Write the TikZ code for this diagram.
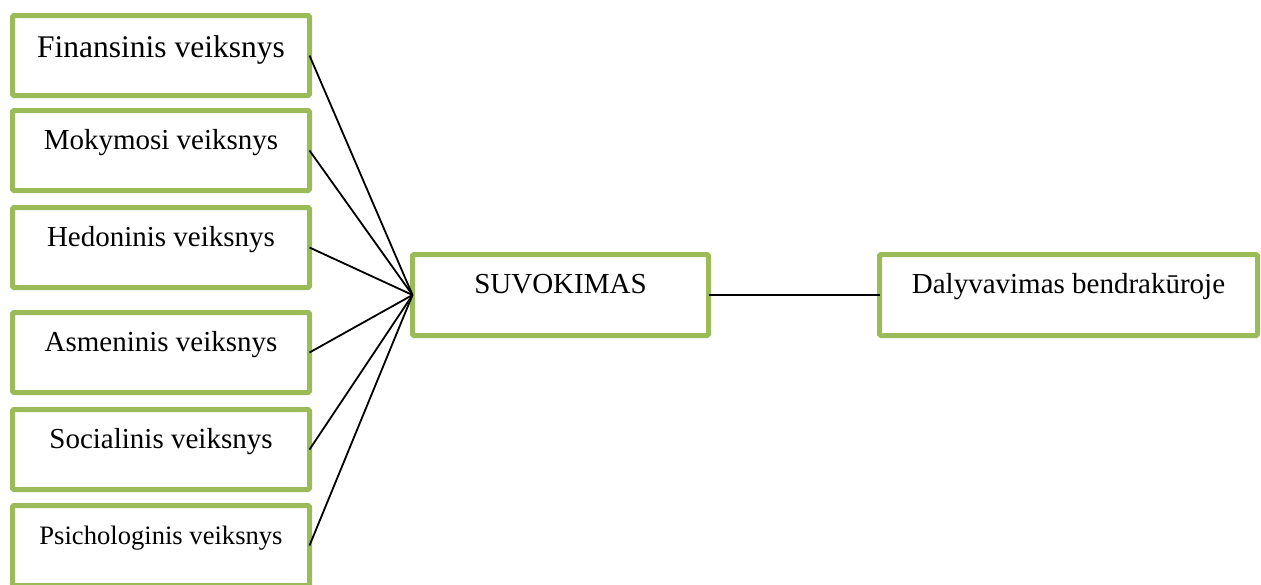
\documentclass[tikz,border=0pt]{standalone}
\usepackage{fontspec}
\setmainfont{Liberation Serif}
\definecolor{boxgreen}{HTML}{9BBB59}
\begin{document}
\begin{tikzpicture}[x=1pt,y=-1pt,
  gbox/.style={draw=boxgreen, line width=5pt, rounded corners=1.5pt, fill=white,
    inner sep=0pt, outer sep=0pt, align=center,
    font=\fontsize{29}{34}\selectfont,
    text height=38.5pt, text depth=41.5pt},
  leftbox/.style={gbox, minimum width=297pt, minimum height=80pt},
  link/.style={line width=1.8pt, black}]
\useasboundingbox (0,0) rectangle (1261,584);
\node[leftbox, text height=41.5pt, text depth=38.5pt, font=\fontsize{31.5}{36}\selectfont] (fin) at (161,55.5) {Finansinis veiksnys};
\node[leftbox] (mok) at (161,150.5) {Mokymosi veiksnys};
\node[leftbox] (hed) at (161,247.5) {Hedoninis veiksnys};
\node[leftbox] (asm) at (161,352.5) {Asmeninis veiksnys};
\node[leftbox] (soc) at (161,449.5) {Socialinis veiksnys};
\node[leftbox, font=\fontsize{26.6}{31}\selectfont] (psi) at (161,545.5) {Psichologinis veiksnys};
\node[gbox, minimum width=296pt, minimum height=81pt, text depth=42.5pt] (suv) at (560.5,295) {SUVOKIMAS};
\node[gbox, minimum width=378pt, minimum height=81pt, text depth=42.5pt] (dal) at (1068.5,295) {Dalyvavimas bendrakūroje};
\foreach \n in {fin,mok,hed,asm,soc,psi}
  \draw[link] (\n.east) -- (suv.west);
\draw[link] (suv.east) -- (dal.west);
\end{tikzpicture}
\end{document}
